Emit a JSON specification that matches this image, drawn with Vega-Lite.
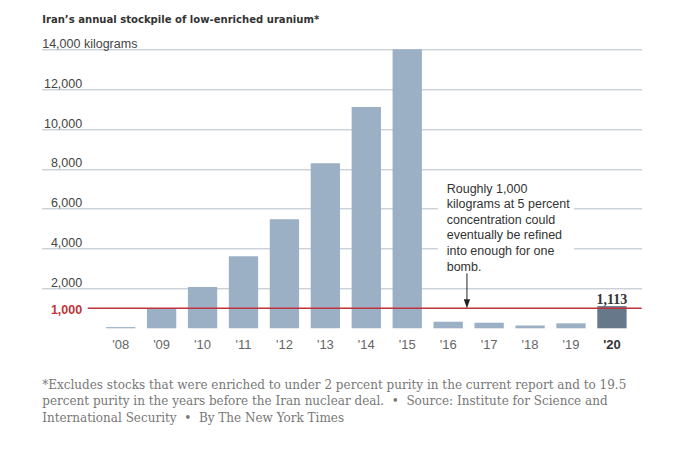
{
  "$schema": "https://vega.github.io/schema/vega-lite/v6.json",
  "width": 554,
  "height": 279,
  "autosize": {"type": "none"},
  "padding": {"left": 87.7, "top": 49.3, "right": 40.3, "bottom": 122.7},
  "background": "white",
  "config": {
    "view": {"stroke": null},
    "axis": {"domain": false, "labelFont": "Liberation Sans"}
  },
  "encoding": {
    "y": {
      "field": "kg",
      "type": "quantitative",
      "scale": {"domain": [0, 14000], "nice": false},
      "axis": {
        "values": [1000, 2000, 4000, 6000, 8000, 10000, 12000, 14000],
        "labelExpr": "datum.value == 14000 ? '14,000 kilograms' : datum.label",
        "grid": true,
        "gridColor": "#b4bec8",
        "gridOpacity": {"condition": {"test": "datum.value == 1000", "value": 0}, "value": 1},
        "ticks": true,
        "tickSize": 46,
        "tickColor": "#b4bec8",
        "tickOpacity": {"condition": {"test": "datum.value == 1000", "value": 0}, "value": 1},
        "labelFontSize": 12.5,
        "labelColor": {"condition": {"test": "datum.value == 1000", "value": "#c0333a"}, "value": "#444"},
        "labelFontWeight": {"condition": {"test": "datum.value == 1000", "value": "bold"}, "value": "normal"},
        "labelAlign": {"condition": {"test": "datum.value == 14000", "value": "left"}, "value": "right"},
        "labelPadding": {"condition": {"test": "datum.value == 14000", "value": 0}, "value": -40},
        "labelBaseline": {"condition": {"test": "datum.value == 1000", "value": "middle"}, "value": "alphabetic"},
        "labelOffset": {"condition": {"test": "datum.value == 1000", "value": 1}, "value": -2},
        "labelFlush": false,
        "labelOverlap": false,
        "title": "Iran’s annual stockpile of low-enriched uranium*",
        "titleFont": "DejaVu Sans Condensed, Liberation Sans",
        "titleFontSize": 11.2,
        "titleFontWeight": "bold",
        "titleColor": "#333",
        "titleAngle": 0,
        "titleAlign": "left",
        "titleBaseline": "alphabetic",
        "titleX": -46,
        "titleY": -27.3
      }
    }
  },
  "layer": [
    {
      "data": {
        "values": [
          {"year": "'08", "kg": 60, "latest": "no"},
          {"year": "'09", "kg": 980, "latest": "no"},
          {"year": "'10", "kg": 2070, "latest": "no"},
          {"year": "'11", "kg": 3610, "latest": "no"},
          {"year": "'12", "kg": 5470, "latest": "no"},
          {"year": "'13", "kg": 8280, "latest": "no"},
          {"year": "'14", "kg": 11100, "latest": "no"},
          {"year": "'15", "kg": 14000, "latest": "no"},
          {"year": "'16", "kg": 330, "latest": "no"},
          {"year": "'17", "kg": 280, "latest": "no"},
          {"year": "'18", "kg": 140, "latest": "no"},
          {"year": "'19", "kg": 250, "latest": "no"},
          {"year": "'20", "kg": 1113, "latest": "yes"}
        ]
      },
      "mark": {"type": "bar"},
      "encoding": {
        "x": {
          "field": "year",
          "type": "nominal",
          "scale": {"paddingInner": 0.284, "paddingOuter": 0.408, "align": 0.548},
          "axis": {
            "labelAngle": 0,
            "ticks": false,
            "labelPadding": 10,
            "labelFontSize": 13,
            "labelColor": {"condition": {"test": "datum.value == \"'20\"", "value": "#333"}, "value": "#666"},
            "labelFontWeight": {"condition": {"test": "datum.value == \"'20\"", "value": "bold"}, "value": "normal"},
            "title": [
              "*Excludes stocks that were enriched to under 2 percent purity in the current report and to 19.5",
              "percent purity in the years before the Iran nuclear deal.\u00a0 • \u00a0Source: Institute for Science and",
              "International Security\u00a0 • \u00a0By The New York Times"
            ],
            "titleFont": "DejaVu Serif",
            "titleFontSize": 12,
            "titleFontWeight": "normal",
            "titleColor": "#777",
            "titleAnchor": "start",
            "titleAlign": "left",
            "titleBaseline": "alphabetic",
            "titleLineHeight": 16.7,
            "titleX": -46,
            "titleY": 60
          }
        },
        "color": {
          "field": "latest",
          "type": "nominal",
          "scale": {"domain": ["no", "yes"], "range": ["#9bb0c4", "#67788a"]},
          "legend": null
        }
      }
    },
    {
      "data": {"values": [{"kg": 3000, "kg2": 7300}]},
      "mark": {"type": "rect", "color": "white"},
      "encoding": {
        "x": {"datum": "'16", "bandPosition": 0.147},
        "x2": {"datum": "'19", "bandPosition": 0.6},
        "y2": {"field": "kg2"}
      }
    },
    {
      "data": {"values": [{"kg": 1000}]},
      "mark": {"type": "rule", "color": "#c0333a", "strokeWidth": 1.5}
    },
    {
      "data": {"values": [{"kg": 2760, "kg2": 1300}]},
      "mark": {"type": "rule", "color": "#222", "strokeWidth": 1},
      "encoding": {
        "x": {"datum": "'16", "bandPosition": 1.14},
        "y2": {"field": "kg2"}
      }
    },
    {
      "data": {"values": [{"kg": 1230}]},
      "mark": {"type": "point", "shape": "M-0.7,-1L0.7,-1L0,1Z", "filled": true, "color": "#222", "size": 81, "opacity": 1},
      "encoding": {
        "x": {"datum": "'16", "bandPosition": 1.14}
      }
    },
    {
      "data": {"values": [{"kg": 6814, "note": ["Roughly 1,000", "kilograms at 5 percent", "concentration could", "eventually be refined", "into enough for one", "bomb."]}]},
      "mark": {"type": "text", "align": "left", "baseline": "alphabetic", "font": "Liberation Sans", "fontSize": 12.5, "lineHeight": 15.6, "color": "#333"},
      "encoding": {
        "x": {"datum": "'16", "bandPosition": 0.45},
        "text": {"field": "note"}
      }
    },
    {
      "data": {"values": [{"kg": 1113, "note": "1,113"}]},
      "mark": {"type": "text", "align": "center", "baseline": "alphabetic", "dy": -2, "font": "Liberation Serif", "fontSize": 14, "fontWeight": "bold", "color": "#333"},
      "encoding": {
        "x": {"datum": "'20"},
        "text": {"field": "note"}
      }
    }
  ]
}
